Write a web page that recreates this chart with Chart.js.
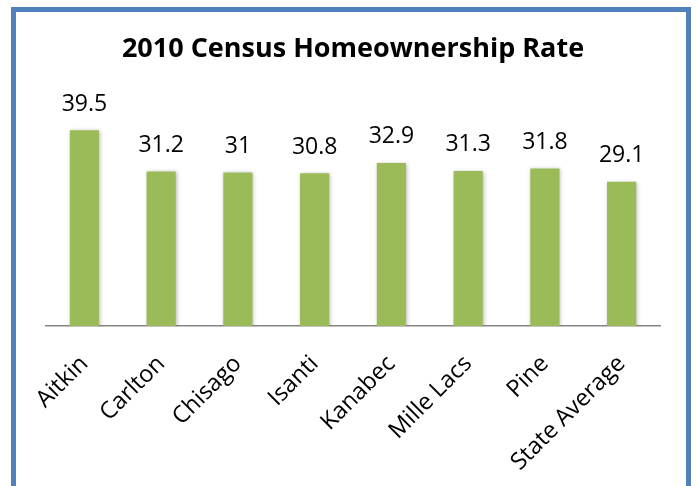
<!DOCTYPE html>
<html>
<head>
<meta charset="utf-8">
<script src="https://cdn.jsdelivr.net/npm/chart.js@4.4.1/dist/chart.umd.min.js"></script>
<style>
  html, body { margin: 0; padding: 0; background: #fff; }
  #wrap { position: relative; width: 696px; height: 486px; }
  canvas { display: block; }
</style>
</head>
<body>
<div id="wrap"><canvas id="c" width="696" height="486"></canvas></div>
<script>
const categories = ["Aitkin", "Carlton", "Chisago", "Isanti", "Kanabec", "Mille Lacs", "Pine", "State Average"];
const rates = [39.5, 31.2, 31, 30.8, 32.9, 31.3, 31.8, 29.1];
const chartTitle = "2010 Census Homeownership Rate";

const frame = {
  id: 'frame',
  afterDraw(chart) {
    const ctx = chart.ctx;
    ctx.save();
    ctx.strokeStyle = '#4F81BD';
    ctx.lineWidth = 5;
    ctx.beginPath();
    ctx.moveTo(13.5, 500);
    ctx.lineTo(13.5, 9.5);
    ctx.lineTo(688.5, 9.5);
    ctx.lineTo(688.5, 500);
    ctx.stroke();
    ctx.restore();
  }
};

const shadow = {
  id: 'shadow',
  beforeDatasetsDraw(chart) {
    const ctx = chart.ctx;
    ctx.save();
    ctx.shadowColor = 'rgba(0,0,0,0.28)';
    ctx.shadowBlur = 4;
    ctx.shadowOffsetX = 1;
    ctx.shadowOffsetY = 1;
  },
  afterDatasetsDraw(chart) {
    chart.ctx.restore();
  }
};

const valueLabels = {
  id: 'valueLabels',
  afterDatasetsDraw(chart) {
    const ctx = chart.ctx;
    const meta = chart.getDatasetMeta(0);
    ctx.save();
    ctx.fillStyle = '#000';
    ctx.font = '23px "Open Sans"';
    ctx.textAlign = 'center';
    ctx.textBaseline = 'alphabetic';
    meta.data.forEach((bar, i) => {
      ctx.fillText(String(rates[i]), bar.x, bar.y - 19.5);
    });
    ctx.restore();
  }
};

new Chart(document.getElementById('c'), {
  type: 'bar',
  data: {
    labels: categories,
    datasets: [{
      data: rates,
      backgroundColor: '#9BBB59',
      borderWidth: 0,
      barPercentage: 0.38,
      categoryPercentage: 1.0
    }]
  },
  options: {
    responsive: false,
    animation: false,
    devicePixelRatio: 1,
    layout: { padding: { left: 46, right: 36, top: 0, bottom: 0 } },
    plugins: {
      legend: { display: false },
      tooltip: { enabled: false },
      title: {
        display: true,
        text: chartTitle,
        color: '#000',
        font: { family: 'Open Sans', size: 27, weight: 'bold', lineHeight: 1.2 },
        padding: { top: 33, bottom: 37.6 }
      }
    },
    scales: {
      x: {
        grid: { display: false },
        border: { display: true, color: '#868686', width: 1.5 },
        ticks: {
          color: '#000',
          font: { family: 'Open Sans', size: 23.5 },
          maxRotation: 45,
          minRotation: 45,
          padding: 16,
          autoSkip: false
        },
        afterFit(scale) { scale.height = 160; }
      },
      y: {
        display: false,
        min: 0,
        max: 45
      }
    }
  },
  plugins: [shadow, valueLabels, frame]
});
</script>
</body>
</html>
